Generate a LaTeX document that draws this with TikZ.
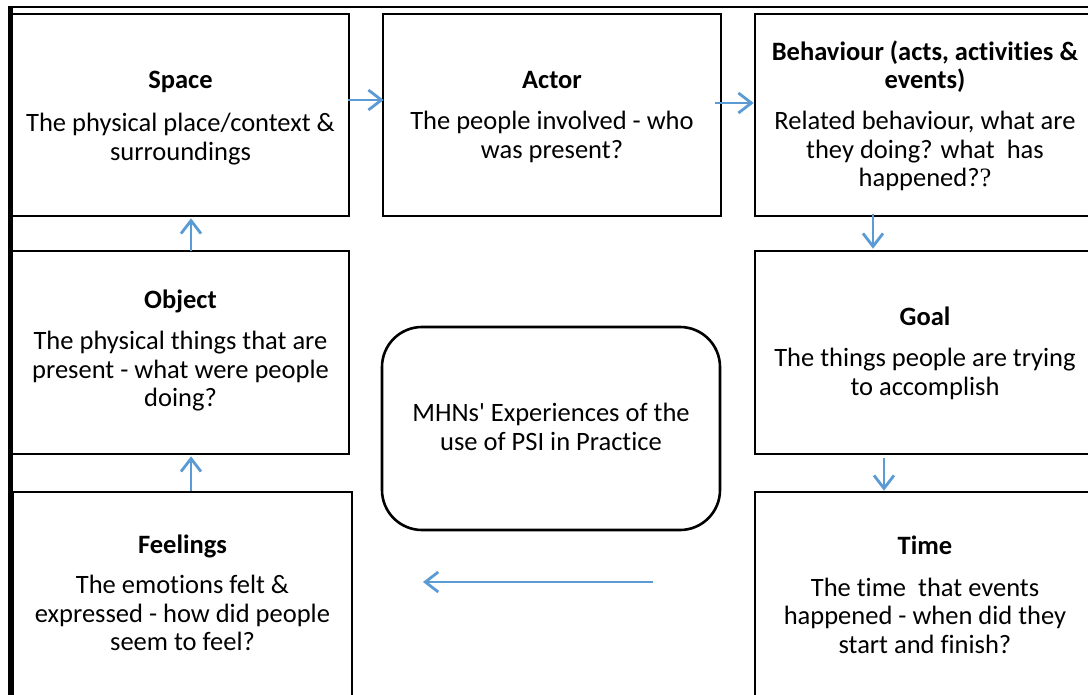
\documentclass[tikz,border=0pt]{standalone}
\usepackage{fontspec}
\setmainfont{Carlito}[Ligatures=NoCommon]
\newfontfamily\qfont{Liberation Serif}
\usetikzlibrary{arrows.meta,calc}
\definecolor{flow}{HTML}{5B9BD5}
\begin{document}
\begin{tikzpicture}[x=1pt,y=-1pt,
  box/.style={draw=black,line width=2.6pt,rectangle,inner sep=0pt},
  panel/.style={box,minimum width=#1,minimum height=203pt},
  hub/.style={draw=black,line width=2.6pt,rectangle,rounded corners=40pt,
    inner sep=0pt,minimum width=338pt,minimum height=203pt},
  txt/.style={align=center,inner sep=0pt,
    font=\fontsize{26.5}{28.5}\selectfont},
  flowarrow/.style={draw=flow,line width=2.8pt,
    -{Straight Barb[length=13pt,width=20pt]}}]

\useasboundingbox (0,0) rectangle (1088,695);
\clip (0,0) rectangle (1088,695);
\fill[white] (0,0) rectangle (1088,695);

% frame lines along the top and the left side
\draw[line width=2.6pt] (8,7) -- (1088,7);
\draw[line width=5pt] (10.5,5.7) -- (10.5,695);

% category panels
\node[panel=337pt,minimum height=202pt] (space) at (180.5,115) {};
\node[panel=338pt,minimum height=202pt] (actor) at (552,115) {};
\node[panel=340pt,minimum height=202pt] (behav) at (925,115) {};
\node[panel=337pt] (object) at (180.5,352.5) {};
\node[panel=340pt] (goal) at (925,352.5) {};
\node[panel=339pt,minimum height=206pt] (feelings) at (182.5,595) {};
\node[panel=340pt,minimum height=206pt] (time) at (925,595) {};
\node[hub] (core) at (551,428.5) {};

% panel texts
\node[txt] (space-t) at ($(space.center)+(0,3)$)
  {\textbf{Space}\\[15pt]The physical place/context \&\\surroundings};
\node[txt] (actor-t) at ($(actor.center)+(0,2)$)
  {\textbf{Actor}\\[12.5pt]The people involved - who\\was present?};
\node[txt] (behav-t) at ($(behav.center)+(0,1)$)
  {\textbf{Behaviour (acts, activities \&}\\\textbf{events)}\\[12.5pt]Related behaviour, what are\\they doing? what\ \ has\\happened?{\qfont ?}};
\node[txt] (object-t) at ($(object.center)+(0,-2)$)
  {\textbf{Object}\\[12.5pt]The physical things that are\\present - what were people\\doing?};
\node[txt] (goal-t) at ($(goal.center)+(0,1)$)
  {\textbf{Goal}\\[12.5pt]The things people are trying\\to accomplish};
\node[txt] (feelings-t) at ($(feelings.center)+(0,-2)$)
  {\textbf{Feelings}\\[11.5pt]The emotions felt \&\\expressed - how did people\\seem to feel?};
\node[txt] (time-t) at ($(time.center)+(0,0)$)
  {\textbf{Time}\\[13pt]The time\ \ that events\\happened - when did they\\start and finish?};
\node[txt] (core-t) at ($(core.center)+(0,-1.5)$)
  {MHNs\textquotesingle\ Experiences of the\\use of PSI in Practice};

% connectors
\draw[flowarrow] ($(space.east)+(-2,-15)$) -- ($(actor.west)+(2,-15)$);
\draw[flowarrow] ($(actor.east)+(-7,-12)$) -- ($(behav.west)+(0,-12)$);
\draw[flowarrow] ($(behav.south)+(-52,-3)$) -- ($(goal.north)+(-52,-1)$);
\draw[flowarrow] ($(goal.south)+(-41,3)$) -- ($(time.north)+(-41,0)$);
\coordinate (back-start) at (653,582);
\coordinate (back-end) at (423,582);
\draw[flowarrow] (back-start) -- (back-end);
\draw[flowarrow] ($(feelings.north)+(8.5,0)$) -- ($(object.south)+(10.5,1)$);
\draw[flowarrow] ($(object.north)+(10.5,1)$) -- ($(space.south)+(10.5,1)$);
\end{tikzpicture}
\end{document}
